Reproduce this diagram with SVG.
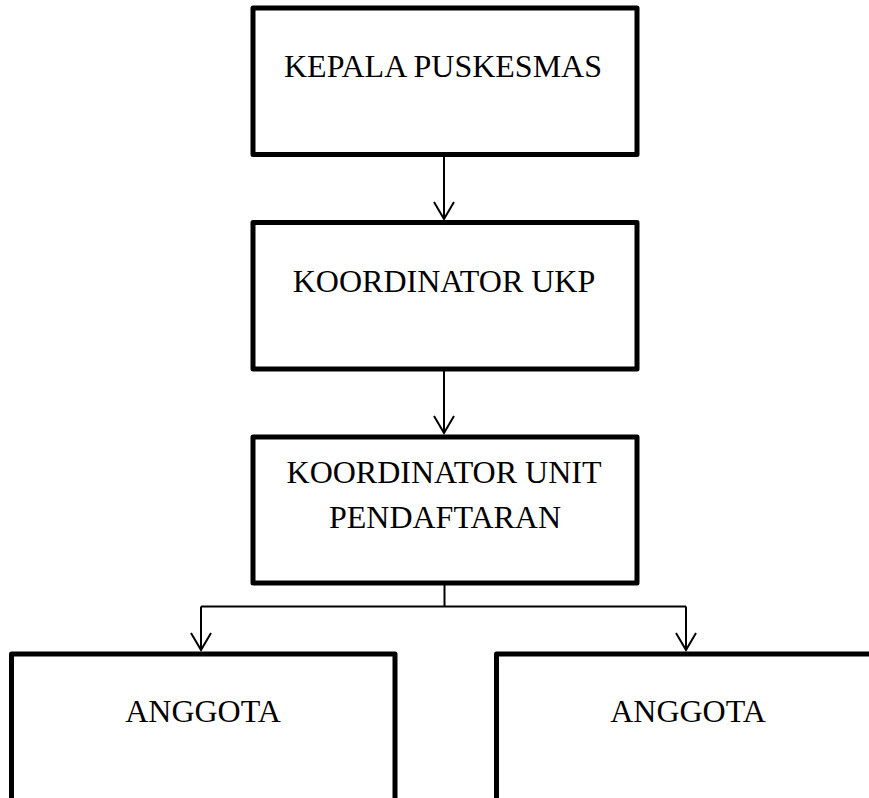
<svg xmlns="http://www.w3.org/2000/svg" width="869" height="798" viewBox="0 0 869 798">
  <style>
    .box { fill: none; stroke: #000; stroke-width: 5; stroke-linejoin: round; }
    .conn { fill: none; stroke: #000; stroke-width: 2; }
    .lbl { font-family: "Liberation Serif", "Times New Roman", serif; font-size: 32px; fill: #000; text-anchor: middle; }
  </style>
  <defs>
    <marker id="arr" markerUnits="userSpaceOnUse" orient="auto" refX="0" refY="0" markerWidth="30" markerHeight="30" overflow="visible">
      <path d="M -17 -10 L 0 0 L -17 10" fill="none" stroke="#000" stroke-width="2" stroke-linejoin="miter"/>
    </marker>
  </defs>
  <rect width="869" height="798" fill="#fff"/>

  <g id="connectors">
    <line class="conn" x1="444" y1="157" x2="444" y2="219" marker-end="url(#arr)"/>
    <line class="conn" x1="444" y1="371" x2="444" y2="433" marker-end="url(#arr)"/>
    <line class="conn" x1="444.5" y1="585" x2="444.5" y2="606.5" stroke-width="1.5"/>
    <line class="conn" x1="201" y1="606.5" x2="686" y2="606.5" stroke-width="1.5"/>
    <line class="conn" x1="201" y1="606.5" x2="201" y2="650" stroke-width="1.5" marker-end="url(#arr)"/>
    <line class="conn" x1="686" y1="606.5" x2="686" y2="650" stroke-width="1.5" marker-end="url(#arr)"/>
  </g>

  <g id="kepala">
    <rect class="box" x="253" y="8" width="384" height="146.5"/>
    <text class="lbl" x="443" y="77">KEPALA PUSKESMAS</text>
  </g>

  <g id="koordinator-ukp">
    <rect class="box" x="253" y="222.5" width="384" height="146.5"/>
    <text class="lbl" x="444" y="292">KOORDINATOR UKP</text>
  </g>

  <g id="koordinator-pendaftaran">
    <rect class="box" x="253" y="437" width="384" height="146"/>
    <text class="lbl" x="444" y="483">KOORDINATOR UNIT</text>
    <text class="lbl" x="445" y="528">PENDAFTARAN</text>
  </g>

  <g id="anggota-1">
    <path class="box" d="M 11.5 810 L 11.5 654 L 395 654 L 395 810"/>
    <text class="lbl" x="203" y="722">ANGGOTA</text>
  </g>

  <g id="anggota-2">
    <path class="box" d="M 496.5 810 L 496.5 654 L 880 654"/>
    <text class="lbl" x="688" y="722">ANGGOTA</text>
  </g>
</svg>
